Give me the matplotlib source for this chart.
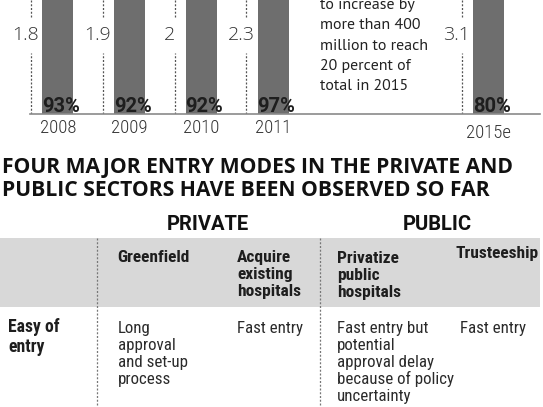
import matplotlib
matplotlib.use("Agg")
import matplotlib.pyplot as plt
from matplotlib.patches import Rectangle
from matplotlib.transforms import blended_transform_factory

# --------------------------------------------------------------------------- #
# Data
# --------------------------------------------------------------------------- #

years = ["2008", "2009", "2010", "2011", "2015e"]
share_pct = [93, 92, 92, 97, 80]          # grey bars, label at their foot
beds_mn = [1.8, 1.9, 2, 2.3, 3.1]          # values on the dashed markers
slots = [0, 1, 2, 3, 6]                    # 2015e sits after a gap

note_lines = ["to increase by", "more than 400", "million to reach",
              "20 percent of", "total in 2015"]

headline = ["FOUR MAJOR ENTRY MODES IN THE PRIVATE AND",
            "PUBLIC SECTORS HAVE BEEN OBSERVED SO FAR"]
sectors = ["PRIVATE", "PUBLIC"]

modes = [["Greenfield"],
         ["Acquire", "existing", "hospitals"],
         ["Privatize", "public", "hospitals"],
         ["Trusteeship"]]
row_label = ["Easy of", "entry"]
ease = [["Long", "approval", "and set-up", "process"],
        ["Fast entry"],
        ["Fast entry but", "potential", "approval delay",
         "because of policy", "uncertainty"],
        ["Fast entry"]]

# --------------------------------------------------------------------------- #
# Layout (pixels from the top-left corner)
# --------------------------------------------------------------------------- #

W, H = 543, 407
BASE_Y = 113.5
SLOT_PX, SLOT0_PX = 71.85, 57.8
BAR_GREY = "#6e6e6e"
INK = "#1e1e1e"

COND = ["Roboto Condensed", "DejaVu Sans"]
BOLD = ["Roboto", "DejaVu Sans"]
HEAD = ["Open Sans", "Roboto", "DejaVu Sans"]

fig = plt.figure(figsize=(W / 100, H / 100), dpi=100)

# bar panel: from the top edge down to the baseline
bx = fig.add_axes([0, (H - BASE_Y) / H, 1, BASE_Y / H])
x0 = -SLOT0_PX / SLOT_PX
bx.set_xlim(x0, x0 + W / SLOT_PX)
bx.set_ylim(0, 75)
bx.axis("off")
bx.set_zorder(1)

ax = fig.add_axes([0, 0, 1, 1])
ax.set_xlim(0, W)
ax.set_ylim(H, 0)
ax.axis("off")
ax.set_zorder(2)

bar_w = 31 / SLOT_PX
bx.bar(slots, share_pct, width=bar_w, color=BAR_GREY, zorder=2)

xa = blended_transform_factory(bx.transData, bx.transAxes)
xpix = blended_transform_factory(bx.transData, ax.transData)
dash_dx = -27 / SLOT_PX
for s, v, pct, yr in zip(slots, beds_mn, share_pct, years):
    xd = s + dash_dx
    for y_lo, y_hi in [(0, 0.53), (0.85, 1.0)]:
        bx.plot([xd, xd], [y_lo, y_hi], transform=xa, color="#555555",
                lw=0.9, ls=(0, (1.6, 1.4)), zorder=1)
    ax.text(xd - 5 / SLOT_PX, 35.5, f"{v:g}", transform=xpix,
            ha="center", va="center", fontsize=14, color="#333333",
            family=["Open Sans", "DejaVu Sans"], fontweight="light")
    ax.text(s + 3 / SLOT_PX, BASE_Y - 1.5, f"{pct}%", transform=xpix,
            ha="center", va="baseline", fontsize=14.5, color=INK,
            family=BOLD, fontweight="bold")
    ax.text(s, 138 if yr.endswith("e") else 133, yr, transform=xpix,
            ha="center", va="baseline", fontsize=13.5, color="#333333",
            family=COND, fontweight="light")

ax.plot([30, 540], [BASE_Y, BASE_Y], color="#8a8a8a", lw=1.2)

for i, line in enumerate(note_lines):
    ax.text(320.5, 8.5 + 20.5 * i, line, ha="left", va="baseline",
            fontsize=11.5, color="#222222",
            family=["PT Sans", "DejaVu Sans"])

# --------------------------------------------------------------------------- #
# Headline and table
# --------------------------------------------------------------------------- #

for i, line in enumerate(headline):
    ax.text(2, 172.7 + 23 * i, line, ha="left", va="baseline",
            fontsize=15.2, color="#111111", family=HEAD, fontweight="bold")

for name, cx in zip(sectors, [207.5, 437.5]):
    ax.text(cx, 230, name, ha="center", va="baseline", fontsize=14.5,
            color="#111111", family=BOLD, fontweight="bold")

ax.add_patch(Rectangle((0, 238), 540, 69, facecolor="#d8d8d8",
                       edgecolor="none", zorder=0))
for xs in [97, 320]:
    ax.plot([xs, xs], [238, H], color="#777777", lw=0.9,
            ls=(0, (1.6, 1.4)))

LEAD = 17
head_x = [117, 237, 337, 455]
head_y = [262, 262, 263, 258]
for lines, hx, hy in zip(modes, head_x, head_y):
    for i, line in enumerate(lines):
        ax.text(hx, hy + LEAD * i, line, ha="left", va="baseline",
                fontsize=12.5, color=INK, family=COND, fontweight="bold")

for i, line in enumerate(row_label):
    ax.text(8, 332 + 20 * i, line, ha="left", va="baseline", fontsize=12.7,
            color=INK, family=COND, fontweight="bold")

body_x = [118, 237, 337, 460]
for lines, bxp in zip(ease, body_x):
    for i, line in enumerate(lines):
        ax.text(bxp, 333 + LEAD * i, line, ha="left", va="baseline",
                fontsize=12.2, color="#2a2a2a", family=COND)

fig.savefig("out.png", dpi=100)
